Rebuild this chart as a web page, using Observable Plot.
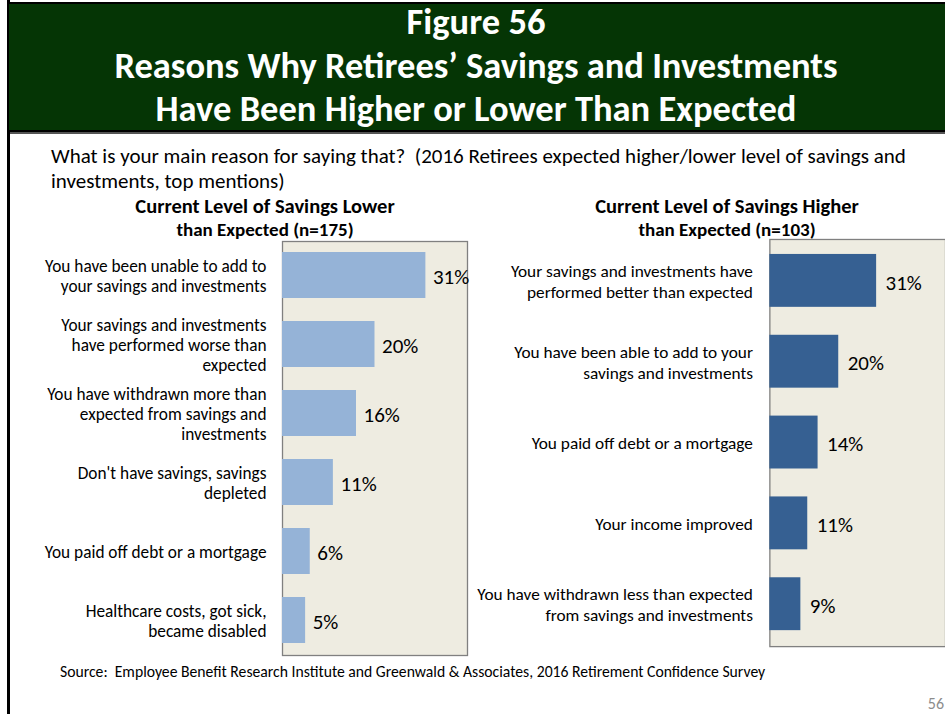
<!DOCTYPE html>
<html><head><meta charset="utf-8">
<script src="https://cdn.jsdelivr.net/npm/d3@7"></script>
<script src="https://cdn.jsdelivr.net/npm/@observablehq/plot@0.6"></script>
<style>
body{margin:0;background:#fff;font-family:Carlito,Lato,sans-serif;}
#page{position:relative;width:945px;height:714px;overflow:hidden;background:#fff;}
.abs{position:absolute;}
#leftline{left:7px;top:0;width:3px;height:714px;background:#000;}
#header{left:7px;top:2px;width:950px;height:130px;background:#053505;border:2px solid #000;box-sizing:border-box;}
#headtext{left:10px;top:0px;width:932px;text-align:center;color:#fff;font-weight:bold;font-size:36.5px;line-height:43.5px;white-space:nowrap;}
#hline{left:10px;top:132px;width:940px;height:2px;background:#555;}
#sub{left:51px;top:144px;width:890px;font-size:21px;line-height:25px;color:#000;white-space:nowrap;}
.ptitle{width:300px;text-align:center;font-weight:bold;color:#000;white-space:nowrap;}
.pt1{font-size:20.5px;line-height:22px;}
.pt2{font-size:19px;line-height:20px;}
#source{left:60px;top:662px;font-size:15.7px;color:#000;white-space:nowrap;}
#pagenum{left:900px;top:694px;width:44px;text-align:right;font-size:16px;color:#8c8c8c;}
</style></head><body><div id="page">
<div id="leftline" class="abs"></div>
<div id="header" class="abs"></div>
<div id="headtext" class="abs">Figure 56<br>Reasons Why Retirees’ Savings and Investments<br>Have Been Higher or Lower Than Expected</div>
<div id="hline" class="abs"></div>
<div id="sub" class="abs">What is your main reason for saying that?&nbsp; (2016 Retirees expected higher/lower level of savings and<br>investments, top mentions)</div>
<div class="abs ptitle pt1" style="left:115px;top:195px;">Current Level of Savings Lower</div>
<div class="abs ptitle pt2" style="left:115px;top:220px;">than Expected (n=175)</div>
<div class="abs ptitle pt1" style="left:577px;top:195px;">Current Level of Savings Higher</div>
<div class="abs ptitle pt2" style="left:577px;top:220px;">than Expected (n=103)</div>
<div id="leftchart" class="abs" style="left:0;top:230px;"></div>
<div id="rightchart" class="abs" style="left:470px;top:228px;"></div>
<div id="source" class="abs">Source:&nbsp; Employee Benefit Research Institute and Greenwald &amp; Associates, 2016 Retirement Confidence Survey</div>
<div id="pagenum" class="abs">56</div>
</div>
<script>
const lowerReasons = [
  "You have been unable to add to\nyour savings and investments",
  "Your savings and investments\nhave performed worse than\nexpected",
  "You have withdrawn more than\nexpected from savings and\ninvestments",
  "Don't have savings, savings\ndepleted",
  "You paid off debt or a mortgage",
  "Healthcare costs, got sick,\nbecame disabled"
];
const lowerValues = [31, 20, 16, 11, 6, 5];
const higherReasons = [
  "Your savings and investments have\nperformed better than expected",
  "You have been able to add to your\nsavings and investments",
  "You paid off debt or a mortgage",
  "Your income improved",
  "You have withdrawn less than expected\nfrom savings and investments"
];
const higherValues = [31, 20, 14, 11, 9];

const lowerData = lowerReasons.map((r, i) => ({reason: r, value: lowerValues[i]}));
const higherData = higherReasons.map((r, i) => ({reason: r, value: higherValues[i]}));

function panel(data, reasons, opts) {
  return Plot.plot({
    width: opts.width, height: opts.height,
    marginLeft: opts.marginLeft, marginRight: opts.marginRight,
    marginTop: 11, marginBottom: 10,
    x: {domain: [0, opts.xmax], axis: null},
    y: {domain: reasons, axis: null, paddingInner: opts.pad, paddingOuter: opts.pad / 2},
    style: {fontFamily: "Carlito, Lato, sans-serif", overflow: "visible", background: "transparent", color: "#000"},
    marks: [
      Plot.frame({fill: "#EEECE1", stroke: "#808080", strokeWidth: 1.3}),
      Plot.barX(data, {x: "value", y: "reason", fill: opts.color}),
      Plot.text(data, {x: "value", y: "reason", text: d => d.value + "%", textAnchor: "start", dx: opts.vdx, dy: 2, fontSize: 21, fill: "#000"}),
      Plot.text(data, {y: "reason", text: "reason", frameAnchor: "left", textAnchor: "end", dx: opts.ldx, fontSize: 17.3, lineHeight: opts.lh, fill: "#000"})
    ]
  });
}

document.getElementById("leftchart").appendChild(panel(lowerData, lowerReasons, {
  width: 480, height: 435, marginLeft: 282, marginRight: 13, xmax: 40, pad: 0.333,
  color: "#95B3D7", vdx: 7, ldx: -16, lh: 1.17
}));
document.getElementById("rightchart").appendChild(panel(higherData, higherReasons, {
  width: 476, height: 429, marginLeft: 300, marginRight: 0, xmax: 51, pad: 0.34,
  color: "#366092", vdx: 9, ldx: -17, lh: 1.2
}));
</script>
</body></html>
